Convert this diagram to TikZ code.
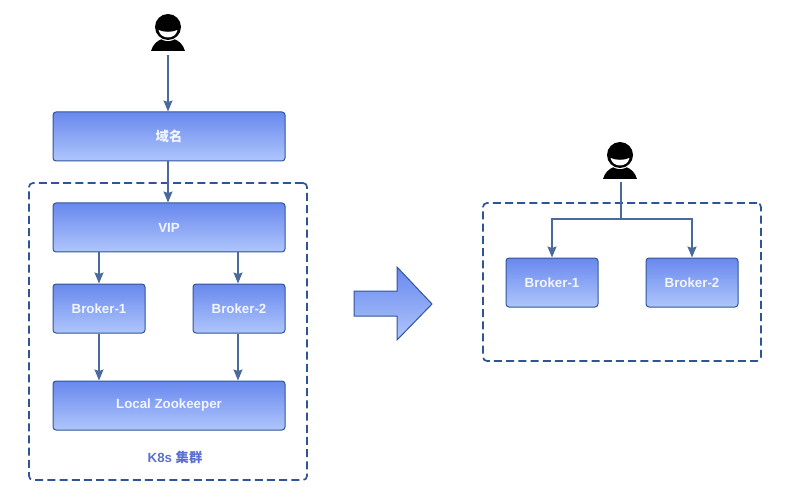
\documentclass[tikz,border=0pt]{standalone}
\usepackage{fontspec}
\setmainfont{Liberation Sans}
\newfontfamily\cjk{Noto Sans CJK SC}
\usetikzlibrary{arrows.meta,calc}
\definecolor{edgeblue}{HTML}{2F5597}
\definecolor{linkblue}{HTML}{4A6A9C}
\definecolor{fillTop}{HTML}{6888EE}
\definecolor{fillBottom}{HTML}{AFC6FB}
\definecolor{labelblue}{HTML}{5B70D2}
\definecolor{labelwhite}{HTML}{F2F5FF}
\tikzset{
  x=1pt,y=-1pt,
  box/.style n args={2}{draw=edgeblue,line width=1pt,rounded corners=3pt,
    top color=fillTop,bottom color=fillBottom,
    minimum width=#1,minimum height=#2,inner sep=0pt,
    text=labelwhite,font=\fontsize{13.3pt}{15pt}\selectfont\bfseries},
  zone/.style={draw=edgeblue,line width=1.7pt,dash pattern=on 8pt off 4.2pt,rounded corners=4pt,
    minimum width=#1,inner sep=0pt},
  zone/.default=278pt,
  link/.style={draw=linkblue,line width=1.4pt,-{Stealth[length=11pt,width=9pt,inset=1.5pt]}},
  stem/.style={draw=linkblue,line width=1.4pt},
  person/.style={minimum width=36pt,minimum height=48pt,inner sep=0pt,
    path picture={
      \begin{scope}[shift={(path picture bounding box.center)}]
        % shoulders, with a white gap left around the head
        \fill[black] (-17,24) .. controls (-15,17) and (-11,14) .. (-6,12)
          -- (6,12) .. controls (11,14) and (15,17) .. (17,24) -- cycle;
        \fill[white] (0,0) circle[radius=14];
        \fill[black] (0,0) circle[radius=13];
        % smile
        \fill[white] (-9.5,3) .. controls (-5,5.4) and (5,5.4) .. (9.5,3)
          .. controls (7.5,13) and (-7.5,13) .. (-9.5,3) -- cycle;
      \end{scope}}},
}
\begin{document}
\begin{tikzpicture}
  \useasboundingbox (0,0) rectangle (789,494);
  % left column
  \node[person] (user1) at (168,27) {};
  \node[box={232pt}{49pt}] (domain) at (169,136.5) {\cjk\bfseries 域名};
  \node[zone,minimum height=297pt] (cluster) at (168,331.5) {};
  \node[box={232pt}{49pt}] (vip) at (169,227.5) {VIP};
  \node[box={92pt}{49pt}] (b1) at (99,308.5) {Broker-1};
  \node[box={92pt}{49pt}] (b2) at (239,308.5) {Broker-2};
  \node[box={232pt}{49pt}] (zk) at (169,405.5) {Local Zookeeper};
  \node[text=labelblue,font=\fontsize{13.3pt}{15pt}\selectfont\bfseries] (clusterlabel) at (175,457) {K8s {\cjk\bfseries 集群}};
  \draw[link,shorten <=4pt] (user1.south) -- (user1.south |- domain.north);
  \draw[link] (user1.south |- domain.south) -- (user1.south |- vip.north);
  \draw[link] (b1.north |- vip.south) -- (b1.north);
  \draw[link] ([xshift=-1pt]b2.north |- vip.south) -- ([xshift=-1pt]b2.north);
  \draw[link] (b1.south) -- (b1.south |- zk.north);
  \draw[link] ([xshift=-1pt]b2.south) -- ([xshift=-1pt]b2.south |- zk.north);
  % transition arrow
  \draw[edgeblue,line width=1pt,top color=fillTop,bottom color=fillBottom]
    (354,291) -- (397,291) -- (397,267) -- (432,304) -- (397,340) -- (397,316) -- (354,316) -- cycle;
  % right column
  \node[person] (user2) at (620,155) {};
  \node[zone,minimum height=158pt] (group) at (622,282) {};
  \node[box={92pt}{49pt}] (r1) at (552,282.5) {Broker-1};
  \node[box={92pt}{49pt}] (r2) at (692,282.5) {Broker-2};
  \coordinate (fork) at (621,219);
  \draw[stem,shorten <=3pt] (fork |- user2.south) -- (fork);
  \draw[link] (fork) -| (r1.north);
  \draw[link] (fork) -| (r2.north);
\end{tikzpicture}
\end{document}
